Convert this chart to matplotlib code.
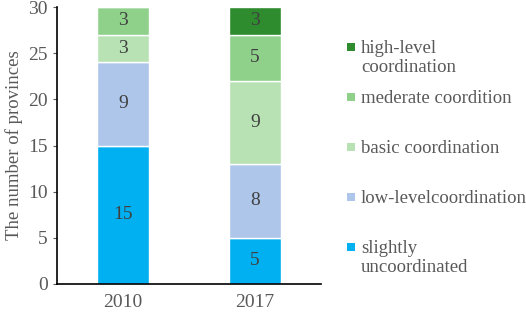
import matplotlib
matplotlib.use("Agg")
import matplotlib.pyplot as plt
from matplotlib.patches import Rectangle
import numpy as np

plt.rcParams['font.family'] = ['Liberation Serif', 'DejaVu Serif']

# data
years = ['2010', '2017']
levels = ['slightly\nuncoordinated', 'low-levelcoordination', 'basic coordination',
          'mederate coordition', 'high-level\ncoordination']
slightly = [15, 5]
low_level = [9, 8]
basic = [3, 9]
moderate = [3, 5]
high_level = [0, 3]
colors = ['#00B0F0', '#AEC6EA', '#B8E2B3', '#8FD08B', '#2E8B2E']

series = [slightly, low_level, basic, moderate, high_level]

W, H = 526, 313
fig = plt.figure(figsize=(W / 100, H / 100), dpi=100)
ax = fig.add_axes([57 / W, 1 - 284 / H, 264 / W, 277 / H])

x = np.arange(len(years))
bottom = np.zeros(len(years))
for vals, lab, col in zip(series, levels, colors):
    vals = np.array(vals, dtype=float)
    ax.bar(x, vals, 0.39, bottom=bottom, color=col, edgecolor='white',
           linewidth=1, label=lab)
    for xi, v, b in zip(x, vals, bottom):
        if v > 0:
            ax.text(xi, b + v / 2, f'{int(v)}', ha='center', va='center',
                    fontsize=14, color='#404040')
    bottom += vals

ax.set_xlim(-0.5, 1.5)
ax.set_ylim(0, 30)
ax.set_yticks(range(0, 31, 5))
ax.set_xticks(x)
ax.set_xticklabels(years)
ax.tick_params(axis='both', labelsize=14, colors='#595959', length=3)
ax.tick_params(axis='x', length=0, pad=7)
for s in ['top', 'right']:
    ax.spines[s].set_visible(False)
for s in ['left', 'bottom']:
    ax.spines[s].set_color('black')
    ax.spines[s].set_linewidth(1.2)
ax.set_ylabel('The number of provinces', fontsize=13.5, color='#595959', labelpad=4)

# legend, Excel style: marker aligned with the first line of each label
for i, (lab, col) in enumerate(zip(levels[::-1], colors[::-1])):
    yc = 47 + 50 * i
    fig.add_artist(Rectangle((347 / W, 1 - (yc + 4) / H), 8 / W, 8 / H,
                             transform=fig.transFigure, facecolor=col,
                             edgecolor='none'))
    fig.text(361 / W, 1 - (yc - 7) / H, lab, ha='left', va='top',
             fontsize=13.5, color='#595959', linespacing=1.15)

fig.savefig('out.png', dpi=100)
